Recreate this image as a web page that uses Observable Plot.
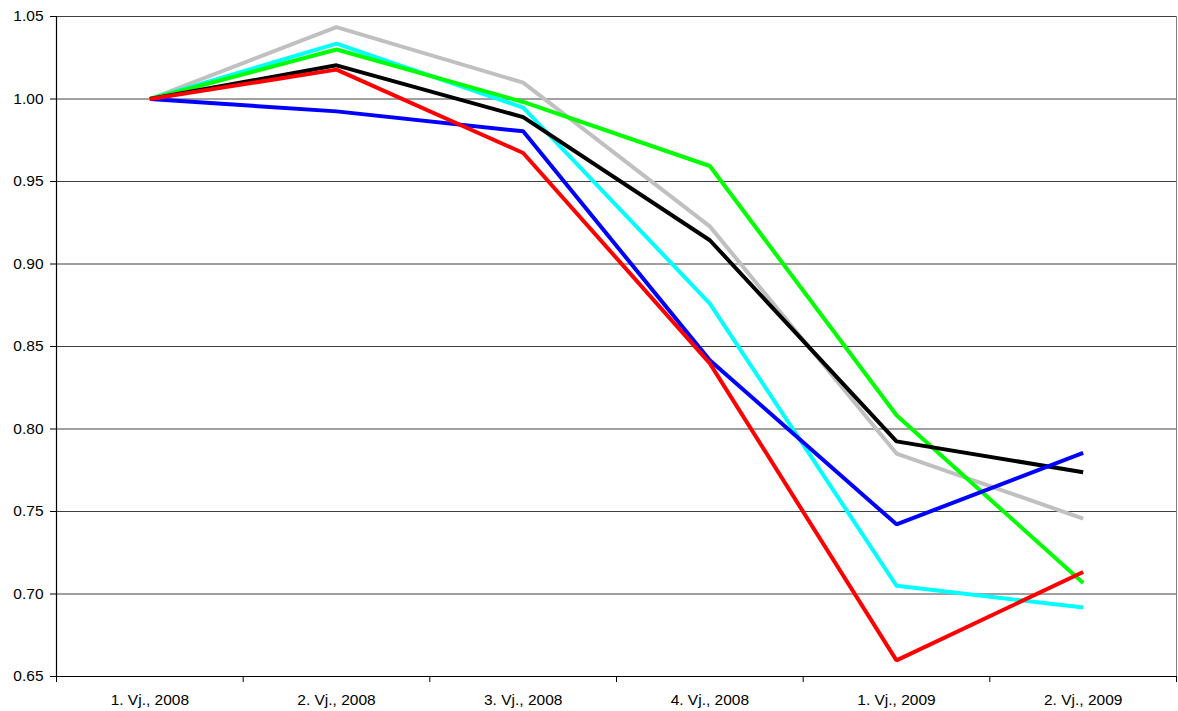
<!DOCTYPE html>
<html>
<head>
<meta charset="utf-8">
<script src="https://cdn.jsdelivr.net/npm/d3@7"></script>
<script src="https://cdn.jsdelivr.net/npm/@observablehq/plot@0.6"></script>
<style>
  html, body { margin: 0; padding: 0; background: #fff; }
  #chart svg { display: block; }
</style>
</head>
<body>
<div id="chart"></div>
<script>
const categories = ["1. Vj., 2008", "2. Vj., 2008", "3. Vj., 2008", "4. Vj., 2008", "1. Vj., 2009", "2. Vj., 2009"];
const yTicks = [0.65, 0.70, 0.75, 0.80, 0.85, 0.90, 0.95, 1.00, 1.05];

const grayValues  = [1.000, 1.0436, 1.0099, 0.9228, 0.7851, 0.7457];
const cyanValues  = [1.000, 1.0336, 0.9948, 0.8760, 0.7050, 0.6918];
const greenValues = [1.000, 1.0300, 0.9982, 0.9594, 0.8083, 0.7067];
const blackValues = [1.000, 1.0204, 0.9890, 0.9144, 0.7925, 0.7738];
const blueValues  = [1.000, 0.9925, 0.9804, 0.8416, 0.7422, 0.7855];
const redValues   = [1.000, 1.0178, 0.9673, 0.8398, 0.6598, 0.7133];

const seriesList = [
  {name: "gray", color: "#c0c0c0", values: grayValues},
  {name: "cyan", color: "#00ffff", values: cyanValues},
  {name: "green", color: "#00ff00", values: greenValues},
  {name: "black", color: "#000000", values: blackValues},
  {name: "blue", color: "#0000ff", values: blueValues},
  {name: "red", color: "#ff0000", values: redValues}
];

const rows = seriesList.flatMap(s => s.values.map((v, i) => ({series: s.name, color: s.color, pos: i + 0.5, value: v})));
const boundaries = d3.range(categories.length + 1);
const centers = categories.map((c, i) => i + 0.5);

const chart = Plot.plot({
  width: 1178,
  height: 711,
  marginLeft: 56,
  marginRight: 2,
  marginTop: 16,
  marginBottom: 35,
  style: {fontFamily: "'Liberation Sans', Arial, sans-serif", fontSize: "16px", color: "#000", background: "#fff"},
  x: {domain: [0, categories.length], axis: null},
  y: {domain: [0.65, 1.05], axis: null},
  marks: [
    Plot.ruleY(yTicks, {stroke: "#000", strokeOpacity: 0.75, strokeWidth: 1}),
    Plot.ruleX([categories.length], {stroke: "#808080", strokeWidth: 1}),
    Plot.axisY({ticks: yTicks, tickFormat: d3.format(".2f"), tickSize: 6, tickPadding: 7, fontSize: 15.5, stroke: "#000", label: null}),
    Plot.axisX({ticks: boundaries, tickFormat: () => "", tickSize: 6, stroke: "#000", label: null}),
    Plot.axisX({ticks: centers, tickFormat: d => categories[Math.floor(d)], tickSize: 0, tickPadding: 17, fontSize: 15.5, label: null}),
    Plot.ruleX([0], {stroke: "#000", strokeWidth: 1.2}),
    Plot.ruleY([0.65], {stroke: "#000", strokeWidth: 1.2}),
    Plot.line(rows, {x: "pos", y: "value", z: "series", stroke: "color", strokeWidth: 4, strokeLinejoin: "miter", strokeLinecap: "butt"})
  ]
});
document.getElementById("chart").appendChild(chart);
</script>
</body>
</html>
